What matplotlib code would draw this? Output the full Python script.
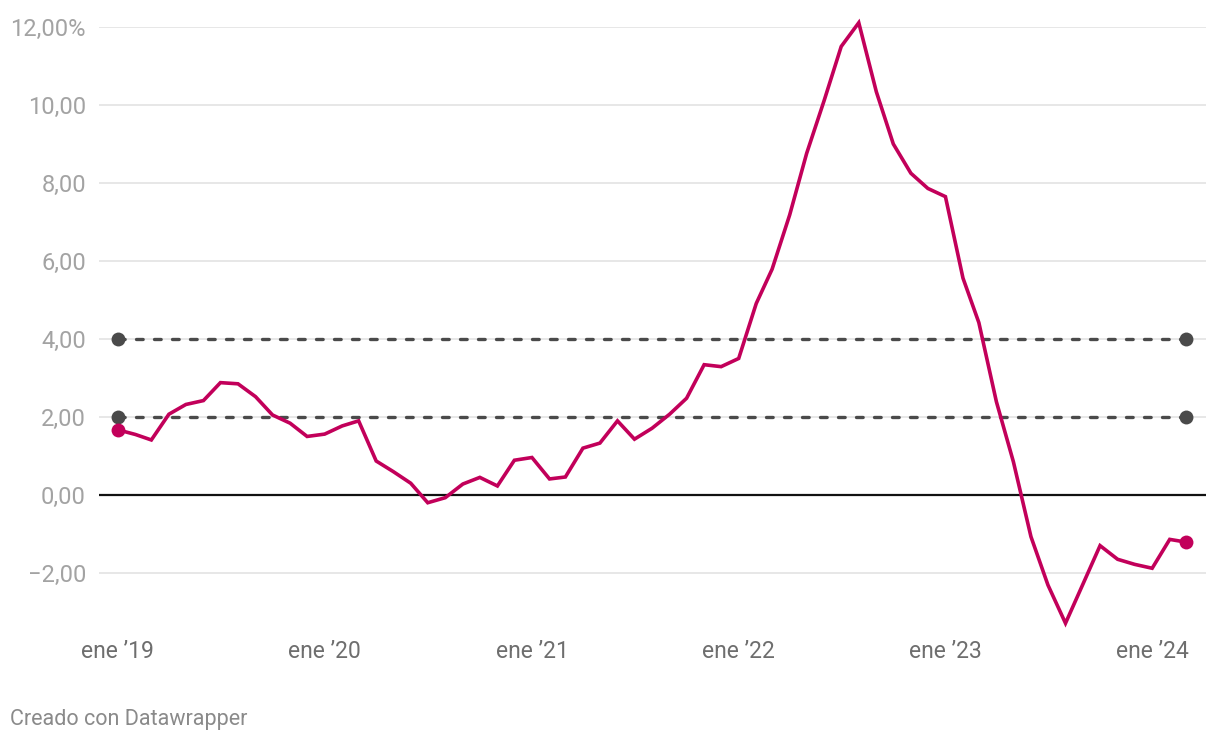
import numpy as np
import pandas as pd
import matplotlib
matplotlib.use("Agg")
import matplotlib.pyplot as plt

# monthly inflation-like series, ene 2019 -> mar 2024
start_month = "2019-01-01"
values = [
    1.67, 1.55, 1.41, 2.07, 2.32, 2.42, 2.88, 2.85, 2.52, 2.05, 1.84, 1.50,   # 2019
    1.56, 1.77, 1.90, 0.87, 0.60, 0.30, -0.20, -0.07, 0.28, 0.45, 0.23, 0.89,  # 2020
    0.96, 0.41, 0.46, 1.20, 1.33, 1.90, 1.43, 1.71, 2.07, 2.48, 3.34, 3.29,   # 2021
    3.50, 4.91, 5.79, 7.18, 8.76, 10.12, 11.50, 12.11, 10.34, 9.00, 8.25, 7.86,  # 2022
    7.65, 5.56, 4.42, 2.39, 0.85, -1.07, -2.31, -3.29, -2.28, -1.30, -1.65, -1.78,  # 2023
    -1.88, -1.14, -1.21,  # 2024
]
ref_levels = [2.0, 4.0]
y_ticks = [-2, 0, 2, 4, 6, 8, 10, 12]
x_tick_years = [2019, 2020, 2021, 2022, 2023, 2024]

RED = "#c2005a"
DARK = "#4a4a4a"

plt.rcParams['font.family'] = ['Roboto', 'DejaVu Sans']

dates = pd.date_range(start_month, periods=len(values), freq="MS")

fig = plt.figure(figsize=(12.2, 7.4), dpi=100)
ax = fig.add_axes([0.0811, 0.152, 0.9074, 0.8115])

# grid lines
for t in y_ticks:
    if t == 0:
        ax.axhline(0, color="#111111", lw=1.6, zorder=3)
    else:
        ax.axhline(t, color="#e3e3e3", lw=1.2, zorder=1)

# reference target lines
for lvl in ref_levels:
    ax.plot([dates[0], dates[-1]], [lvl, lvl], color=DARK, lw=2.4,
            dashes=(2.0, 3.4), dash_capstyle="round", zorder=4)
    ax.plot([dates[0], dates[-1]], [lvl, lvl], "o", color=DARK, ms=10,
            mec="none", zorder=5)

ax.plot(dates, values, color=RED, lw=2.6, solid_joinstyle="miter", zorder=6,
        clip_on=False)
ax.plot([dates[0], dates[-1]], [values[0], values[-1]], "o", color=RED,
        ms=10, mec="none", zorder=7)

ax.set_xlim(dates[0] - pd.Timedelta(days=33.5), dates[-1] + pd.Timedelta(days=35))
ax.set_ylim(-3.4, 12)

ax.set_yticks(y_ticks)
ylabels = [("\u2212" if t < 0 else "") + f"{abs(t):.2f}".replace(".", ",") for t in y_ticks]
ylabels[-1] += "%"
ax.set_yticklabels(ylabels)
ax.tick_params(axis="y", length=0, pad=9.4, labelsize=17, labelcolor="#a3a3a3")

xt = [pd.Timestamp(f"{y}-01-01") for y in x_tick_years]
ax.set_xticks(xt)
ax.set_xticklabels([f"ene \u2019{str(y)[2:]}" for y in x_tick_years])
ax.tick_params(axis="x", length=0, pad=9, labelsize=16.5, labelcolor="#6e6e6e")

for s in ax.spines.values():
    s.set_visible(False)

fig.text(10 / 1220, 1 - 719 / 740, "Creado con Datawrapper", fontsize=15.5,
         color="#8a8a8a", ha="left", va="center")

fig.savefig("out.png", dpi=100)
